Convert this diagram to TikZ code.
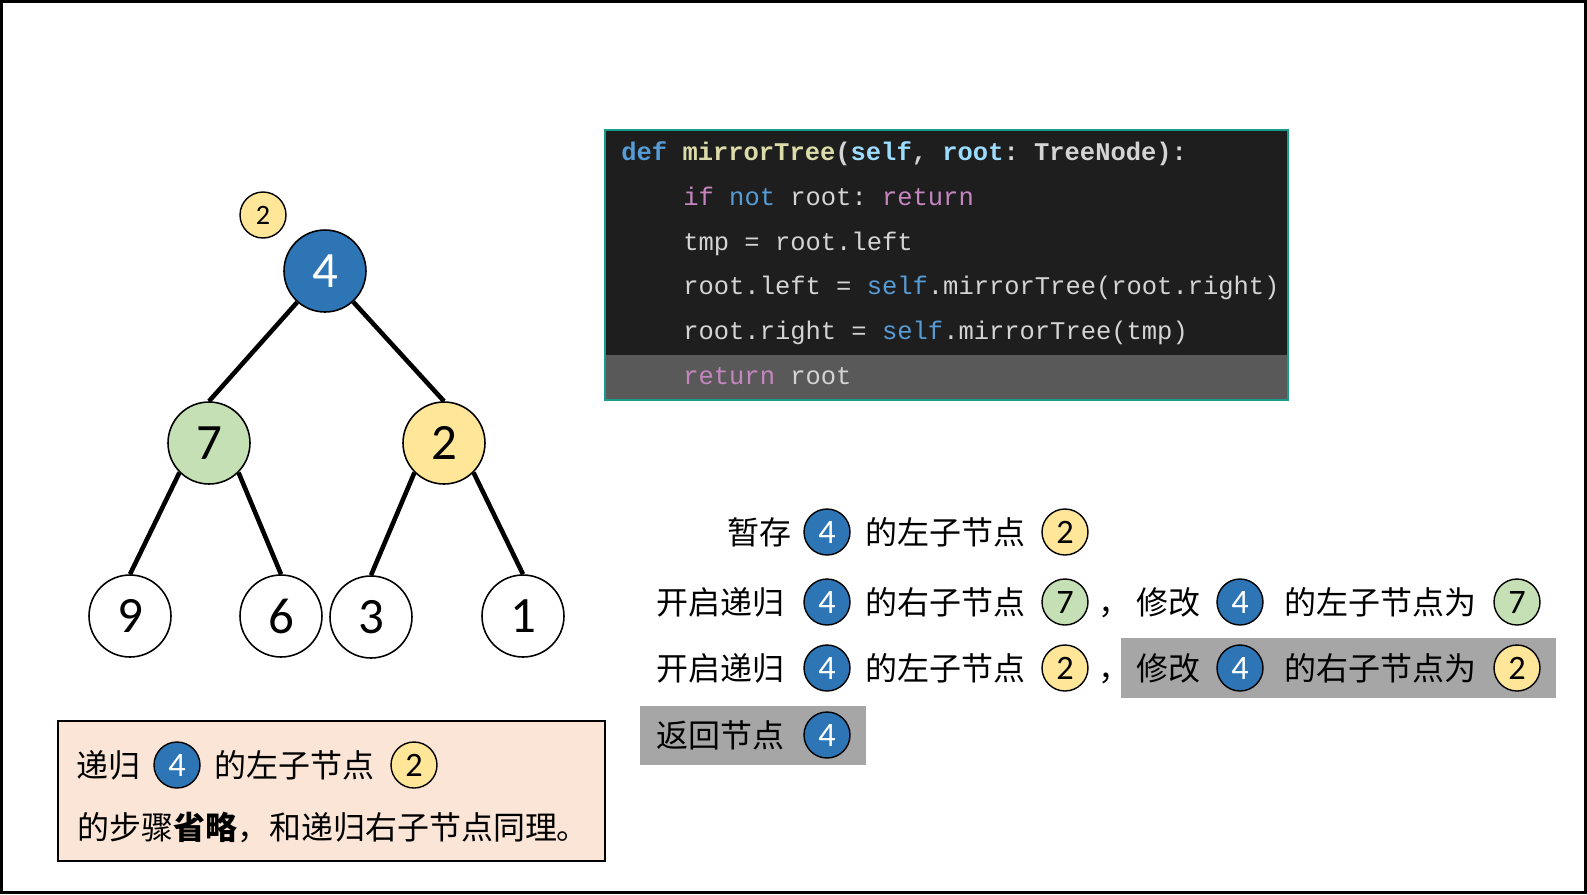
\documentclass[tikz,border=0pt]{standalone}
\usepackage{fontspec}
\setmainfont{Noto Sans CJK SC}
\setmonofont{Liberation Mono}
\newfontfamily\numfont{Carlito}
\usetikzlibrary{positioning}
\definecolor{nodeblue}{RGB}{46, 117, 182}
\definecolor{nodegreen}{RGB}{197, 224, 180}
\definecolor{nodeyellow}{RGB}{255, 230, 153}
\definecolor{notebg}{RGB}{251, 229, 214}
\definecolor{hlgray}{RGB}{166, 166, 166}
\definecolor{codebg}{RGB}{30, 30, 30}
\definecolor{codehl}{RGB}{89, 89, 89}
\definecolor{codeframe}{RGB}{24, 156, 140}
\definecolor{codetext}{RGB}{212, 212, 212}
\definecolor{kwblue}{RGB}{86, 156, 214}
\definecolor{kwpink}{RGB}{197, 134, 192}
\definecolor{fnyellow}{RGB}{220, 220, 170}
\definecolor{parblue}{RGB}{156, 220, 254}
\newcommand\cjksize{\fontsize{18.2}{22}\selectfont}
\newcommand\codesize{\fontsize{14.5}{17}\selectfont}

\begin{document}
\begin{tikzpicture}[x=0.02cm, y=-0.02cm,
  treenode/.style={circle, draw=black, line width=0.9pt, minimum size=1.64cm, inner sep=0pt, font=\numfont\fontsize{29}{29}\selectfont},
  treeedge/.style={line width=2.6pt},
  badge/.style={circle, draw=black, line width=0.8pt, minimum size=0.92cm, inner sep=0pt, font=\numfont\fontsize{19.5}{20}\selectfont},
  steptext/.style={anchor=base west, inner sep=0pt, font=\cjksize},
  codeline/.style={anchor=base west, inner sep=0pt, font=\ttfamily\codesize, text=codetext}]
  \useasboundingbox (0,0) rectangle (1587,894);
  \fill[white] (0,0) rectangle (1587,894);
  \draw[line width=1.6pt] (1.5,1.5) rectangle (1585.5,892.5);

  % ===== 二叉树 =====
  \node[treenode, fill=nodeblue, text=white] (n4) at (325,271) {4};
  \node[treenode, fill=nodegreen] (n7) at (209,443) {7};
  \node[treenode, fill=nodeyellow] (n2) at (444,443) {2};
  \node[treenode] (n9) at (130,616) {9};
  \node[treenode] (n6) at (281,616) {6};
  \node[treenode] (n3) at (371,617) {3};
  \node[treenode] (n1) at (523,616) {1};
  \draw[treeedge] (n4) -- (n7.north);
  \draw[treeedge] (n4) -- (n2.north);
  \draw[treeedge] (n7.south west) -- (n9.north);
  \draw[treeedge] (n7.south east) -- (n6.north);
  \draw[treeedge] (n2.south west) -- (n3.north);
  \draw[treeedge] (n2.south east) -- (n1.north);

  % 暂存的左子节点
  \node[badge, fill=nodeyellow, font=\numfont\fontsize{16}{16}\selectfont] (tmp2) at (263,215) {2};

  % ===== 代码 =====
  \fill[codebg] (605,130) rectangle (1288,400);
  \fill[codehl] (605,355) rectangle (1288,400);
  \draw[codeframe, line width=1pt] (605,130) rectangle (1288,400);
  \node[codeline, font=\ttfamily\bfseries\codesize] (code1) at (621,160) {\textcolor{kwblue}{def} \textcolor{fnyellow}{mirrorTree}(\textcolor{parblue}{self}, \textcolor{parblue}{root}: TreeNode):};
  \node[codeline] (code2) at (683,205) {\textcolor{kwpink}{if} \textcolor{kwblue}{not} root: \textcolor{kwpink}{return}};
  \node[codeline] (code3) at (683,250) {tmp = root.left};
  \node[codeline] (code4) at (683,294) {root.left = \textcolor{kwblue}{self}.mirrorTree(root.right)};
  \node[codeline] (code5) at (683,339) {root.right = \textcolor{kwblue}{self}.mirrorTree(tmp)};
  \node[codeline] (code6) at (683,384) {\textcolor{kwpink}{return} root};

  % ===== 步骤说明 =====
  \fill[hlgray] (1121,638) rectangle (1556,698);
  \fill[hlgray] (640,706) rectangle (866,765);

  % 第一行
  \node[steptext] (s1a) at (727,544) {暂存};
  \node[badge, fill=nodeblue, text=white] (s1b) at (827,532) {4};
  \node[steptext] (s1c) at (865,544) {的左子节点};
  \node[badge, fill=nodeyellow] (s1d) at (1065,532) {2};

  % 第二行
  \node[steptext] (s2a) at (656,614) {开启递归};
  \node[badge, fill=nodeblue, text=white] (s2b) at (827,602) {4};
  \node[steptext] (s2c) at (865,614) {的右子节点};
  \node[badge, fill=nodegreen] (s2d) at (1065,602) {7};
  \node[steptext] (s2e) at (1098,614) {，};
  \node[steptext] (s2f) at (1136,614) {修改};
  \node[badge, fill=nodeblue, text=white] (s2g) at (1240,602) {4};
  \node[steptext] (s2h) at (1284,614) {的左子节点为};
  \node[badge, fill=nodegreen] (s2i) at (1517,602) {7};

  % 第三行
  \node[steptext] (s3a) at (656,680) {开启递归};
  \node[badge, fill=nodeblue, text=white] (s3b) at (827,668) {4};
  \node[steptext] (s3c) at (865,680) {的左子节点};
  \node[badge, fill=nodeyellow] (s3d) at (1065,668) {2};
  \node[steptext] (s3e) at (1098,680) {，};
  \node[steptext] (s3f) at (1136,680) {修改};
  \node[badge, fill=nodeblue, text=white] (s3g) at (1240,668) {4};
  \node[steptext] (s3h) at (1284,680) {的右子节点为};
  \node[badge, fill=nodeyellow] (s3i) at (1517,668) {2};

  % 第四行
  \node[steptext] (s4a) at (656,747) {返回节点};
  \node[badge, fill=nodeblue, text=white] (s4b) at (827,735) {4};

  % ===== 备注 =====
  \draw[fill=notebg, line width=0.9pt] (58,721) rectangle (605,861);
  \node[steptext] (note1a) at (76,777) {递归};
  \node[badge, fill=nodeblue, text=white] (note1b) at (177,765) {4};
  \node[steptext] (note1c) at (214,777) {的左子节点};
  \node[badge, fill=nodeyellow] (note1d) at (414,765) {2};
  \node[steptext] (note2) at (77,839) {的步骤\textbf{省略}，和递归右子节点同理。};
\end{tikzpicture}
\end{document}
